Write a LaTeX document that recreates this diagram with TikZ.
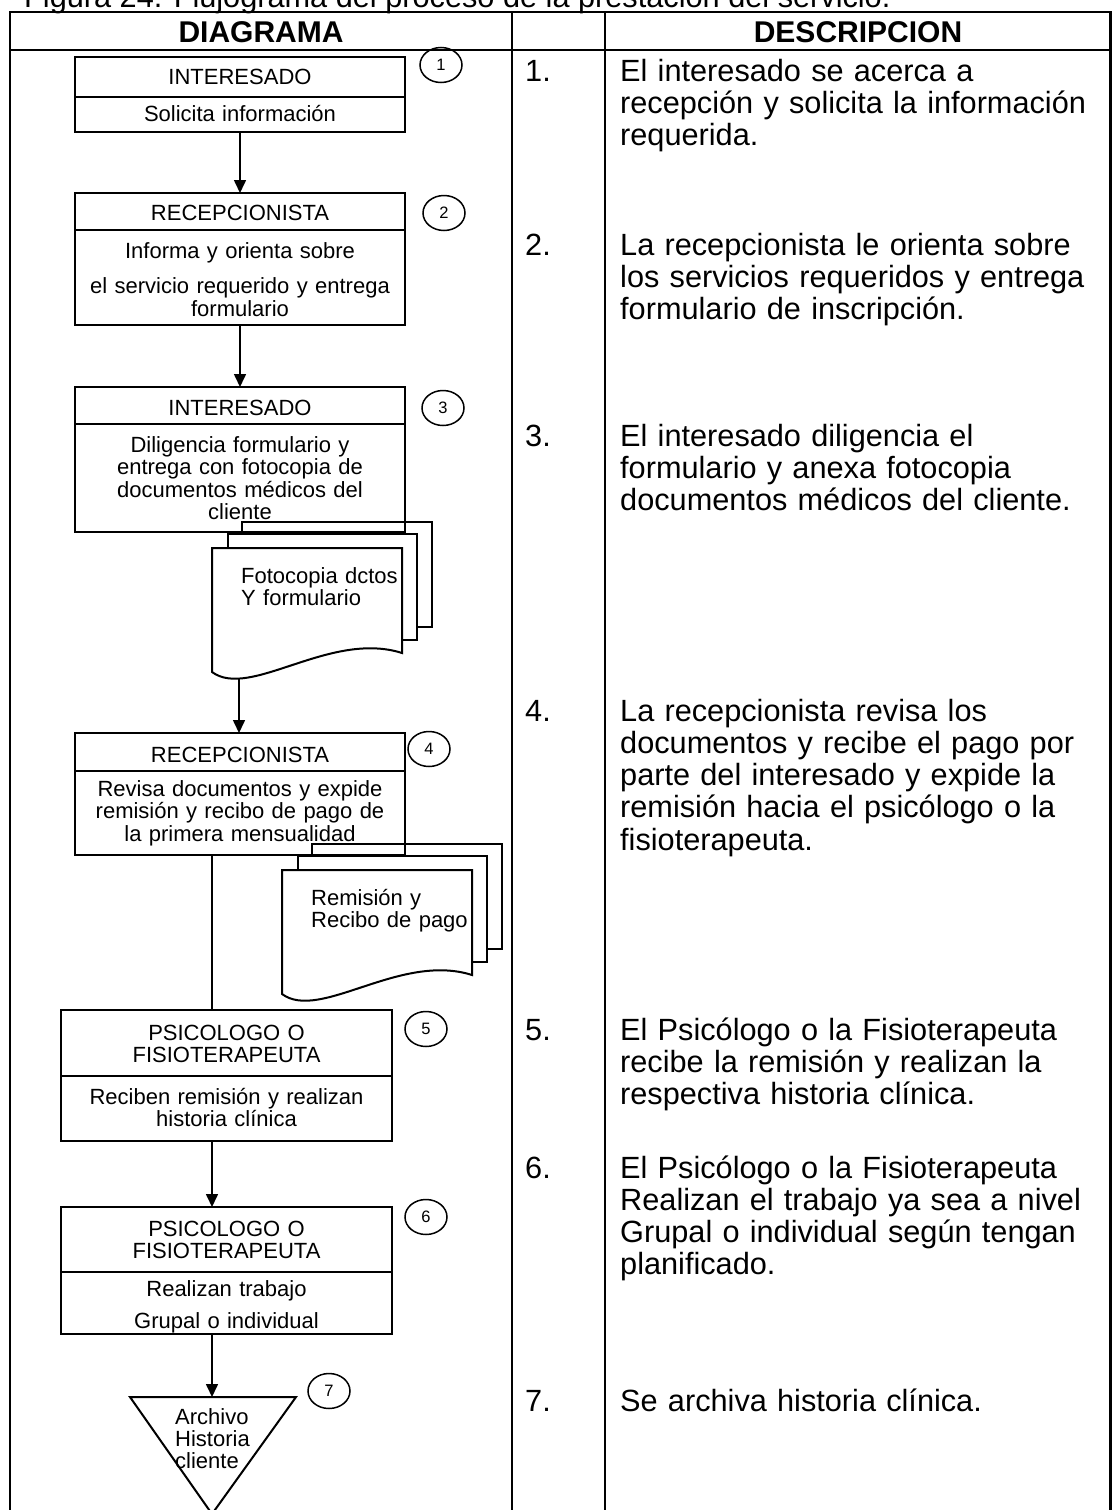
\documentclass[tikz,border=0pt]{standalone}
\usepackage{fontspec}
\setmainfont{Liberation Sans}
\usetikzlibrary{arrows.meta,shapes.geometric}

\begin{document}
\begin{tikzpicture}[x=1pt, y=-1pt,
  marco/.style={line width=2.3pt},
  raya/.style={line width=2pt},
  caja/.style={draw, line width=2pt, inner sep=0pt, outer sep=0pt},
  hoja/.style={draw, line width=2pt, fill=white},
  une/.style={line width=1.6pt},
  flecha/.style={une, -{Triangle[length=13pt, width=12pt]}},
  ctxt/.style={font=\fontsize{22}{22.5}\selectfont, text width=330pt, align=center, anchor=base, inner sep=0pt},
  ltxt/.style={font=\fontsize{22}{22}\selectfont, text width=200pt, align=left, anchor=base west, inner sep=0pt},
  desc/.style={font=\fontsize{30.7}{32.3}\selectfont, text width=490pt, align=left, anchor=base west, inner sep=0pt},
  num/.style={font=\fontsize{30.7}{30}\selectfont, anchor=base west, inner sep=0pt},
  head/.style={font=\bfseries\fontsize{30}{30}\selectfont, inner sep=0pt},
  paso/.style={draw, ellipse, line width=1.5pt, minimum width=42pt, minimum height=35pt, inner sep=0pt, font=\fontsize{16.5}{16.5}\selectfont}]
\useasboundingbox (0,0) rectangle (1112,1510);
\clip (0,0) rectangle (1112,1510);
% =================== caption, cut by the page edge ===================
\node[font=\fontsize{30.7}{30}\selectfont, anchor=base west, inner sep=0pt] (titulo) at (24,7)
   {Figura 24. Flujograma del proceso de la prestación del servicio.};
% =================== table frame ===================
\draw[marco] (10,12) rectangle (1110.5,1540);
\draw[marco] (10,50) -- (1110.5,50);
\draw[marco] (512,12) -- (512,1540);
\draw[marco] (605,12) -- (605,1540);
\node[head] (hdiag) at (261,32) {DIAGRAMA};
\node[head] (hdesc) at (858,32) {DESCRIPCION};
% =================== document stacks ===================
\foreach \dx/\dy/\nm/\lb in {0/0/f1/{Fotocopia dctos\\Y formulario},
                             70/322/f2/{Remisión y\\Recibo de pago}}{
  \begin{scope}[shift={(\dx,\dy)}]
    \draw[hoja] (242,522) rectangle (432,627);
    \draw[hoja] (228,534) rectangle (417,640);
    \draw[hoja] (212,548) -- (402,548) -- (402,653)
       .. controls (330,630) and (250,700) .. (212,672) -- cycle;
    \node[ltxt] (\nm) at (241,583) {\lb};
    \coordinate (\nm s) at (239,678);
  \end{scope}
}
% =================== process boxes ===================
\foreach \nm/\xc/\w/\yt/\yd/\yb in {b1/240/330/57/97/132, b2/240/330/193/230/325,
    b3/240/330/387/424/532, b4/240/330/733/771/855,
    b5/226.5/331/1010/1076/1141, b6/226.5/331/1207/1272/1334}{
  \pgfmathsetmacro\hh{\yb-\yt}
  \node[caja, minimum width=\w pt, minimum height=\hh pt, anchor=north] (\nm) at (\xc,\yt) {};
  \draw[raya] (\nm.west |- 0,\yd) -- (\nm.east |- 0,\yd);
}
\node[ctxt] (b1t) at (240,84) {INTERESADO};
\node[ctxt] (b1c) at (240,121) {Solicita información};
\node[ctxt] (b2t) at (240,220) {RECEPCIONISTA};
\node[ctxt] (b2c) at (240,258) {Informa y orienta sobre\\[13pt]el servicio requerido y entrega\\formulario};
\node[ctxt] (b3t) at (240,415) {INTERESADO};
\node[ctxt] (b3c) at (240,452) {Diligencia formulario y\\entrega con fotocopia de\\documentos médicos del\\cliente};
\node[ctxt] (b4t) at (240,762) {RECEPCIONISTA};
\node[ctxt] (b4c) at (240,796) {Revisa documentos y expide\\remisión y recibo de pago de\\la primera mensualidad};
\node[ctxt] (b5t) at (226.5,1040) {PSICOLOGO O\\FISIOTERAPEUTA};
\node[ctxt] (b5c) at (226.5,1104) {Reciben remisión y realizan\\historia clínica};
\node[ctxt] (b6t) at (226.5,1236) {PSICOLOGO O\\FISIOTERAPEUTA};
\node[ctxt] (b6c) at (226.5,1296) {Realizan trabajo\\[10pt]Grupal o individual};
% archive triangle
\draw[raya] (130,1397) -- (296,1397) -- (212,1514) -- cycle;
\coordinate (t7) at (212,1397);
\node[ltxt] (arch) at (175,1424) {Archivo\\Historia\\cliente};
% =================== connectors ===================
\coordinate (eje) at (212,0);
\draw[flecha] (b1) -- (b2);
\draw[flecha] (b2) -- (b3);
\draw[flecha] (f1s) -- (f1s |- b4.north);
\draw[une] (b4.south -| eje) -- (b5.north -| eje);
\draw[flecha] (b5.south -| eje) -- (b6.north -| eje);
\draw[flecha] (b6.south -| eje) -- (t7);
% step numbers
\foreach \i/\x/\y in {1/441/65, 2/444/213, 3/443/408, 4/429/749,
                      5/426/1029, 6/426/1217, 7/329/1391}
  \node[paso] (c\i) at (\x,\y) {\i};
% =================== description column ===================
\foreach \idx/\yb/\tx in {
  1/81/{El interesado se acerca a\\recepción y solicita la información\\requerida.},
  2/255/{La recepcionista le orienta sobre\\los servicios requeridos y entrega\\formulario de inscripción.},
  3/446/{El interesado diligencia el\\formulario y anexa fotocopia\\documentos médicos del cliente.},
  4/721/{La recepcionista revisa los\\documentos y recibe el pago por\\parte del interesado y expide la\\remisión hacia el psicólogo o la\\fisioterapeuta.},
  5/1040/{El Psicólogo o la Fisioterapeuta\\recibe la remisión y realizan la\\respectiva historia clínica.},
  6/1178/{El Psicólogo o la Fisioterapeuta\\Realizan el trabajo ya sea a nivel\\Grupal o individual según tengan\\planificado.},
  7/1411/{Se archiva historia clínica.}}{
  \node[num] (n\idx) at (525,\yb) {\idx.};
  \node[desc] (d\idx) at (620,\yb) {\tx};
}
\end{tikzpicture}
\end{document}
